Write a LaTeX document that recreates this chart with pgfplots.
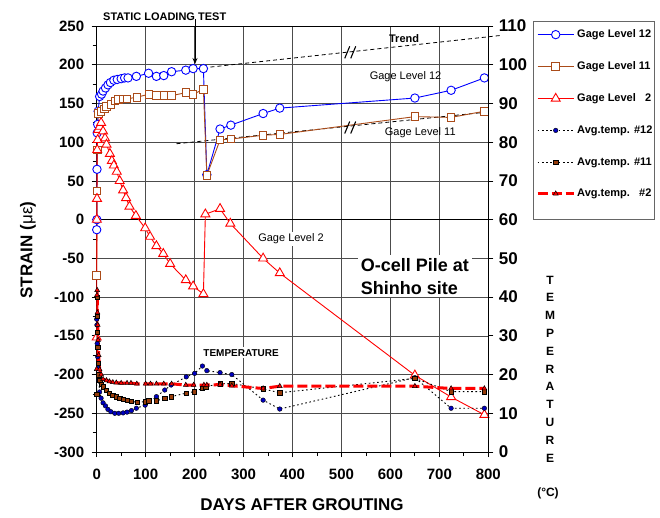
\documentclass[border=0pt]{standalone}
\usepackage{pgfplots}
\pgfplotsset{compat=1.18}
\usepackage{fontspec}
\setmainfont{Liberation Sans}
\usetikzlibrary{arrows.meta}

\definecolor{gblue}{RGB}{0,0,255}
\definecolor{gbrown}{RGB}{170,75,25}
\definecolor{gred}{RGB}{255,0,0}
\definecolor{tblue}{RGB}{0,0,190}
\definecolor{tbrown}{RGB}{150,60,10}

\pgfplotsset{
  frame/.style={at={(96.7pt,-452pt)}, anchor=south west, scale only axis,
    width=391.6pt, height=426pt, xmin=0, xmax=800},
  g12/.style={gblue, line width=0.9pt, mark=*, mark size=4.2pt, mark options={fill=white, solid}},
  g11/.style={gbrown, line width=0.9pt, mark=square*, mark size=3.8pt, mark options={fill=white, solid}},
  g2/.style={gred, line width=0.9pt, mark=triangle*, mark size=5.2pt, mark options={fill=white, solid}},
  t12/.style={black, line width=0.9pt, dash pattern=on 1.6pt off 2.6pt, mark=*, mark size=2.3pt, mark options={fill=tblue, draw=black, solid, line width=0.4pt}},
  t11/.style={black, line width=0.9pt, dash pattern=on 1.6pt off 2.6pt, mark=square*, mark size=2.2pt, mark options={fill=tbrown, draw=black, solid, line width=0.4pt}},
  t2/.style={gred, line width=3pt, dash pattern=on 10pt off 4pt, mark=triangle*, mark size=2.8pt, mark options={fill=gred, draw=black, solid, line width=0.5pt}},
}

\begin{document}
\begin{tikzpicture}
\useasboundingbox (0pt,0pt) rectangle (660pt,-517pt);

% strain axis
\begin{axis}[frame, ymin=-300, ymax=250, clip=false,
  xtick={0,100,...,800}, ytick={-300,-250,...,250},
  minor x tick num=1, minor y tick num=1,
  xtick pos=bottom, ytick pos=left, tick align=outside,
  major tick length=5pt, minor tick length=4pt,
  grid=major, grid style={black!70, line width=0.6pt},
  axis line style={black, line width=1pt},
  tick style={black, line width=0.8pt},
  /pgf/number format/assume math mode=true,
  yticklabel style={font=\bfseries\fontsize{15}{15}\selectfont, xshift=-4pt},
  xticklabel style={font=\bfseries\fontsize{15}{15}\selectfont, yshift=-8pt},
]
\draw[black, line width=1.4pt] (axis cs:0,0) -- (axis cs:800,0);

% trend lines
\addplot[black, line width=0.8pt, dash pattern=on 4pt off 3pt, forget plot] coordinates {(218,196) (828,238)};
\addplot[black, line width=0.8pt, dash pattern=on 4pt off 3pt, forget plot] coordinates {(163,98) (800,139)};

% Gage Level 12
\addplot[g12] coordinates {
(0,-13) (0.3,0) (0.6,65) (1,112) (2,123) (3,140) (6,159) (10,162) (13,166) (18,170)
(23,174) (28,177) (35,180) (42,181) (50,182) (57,183) (64,183) (81,185) (106,189)
(122,185) (137,186) (153,191) (182,193) (197,195) (218,195) (225,58) (252,117)
(274,122) (340,137) (374,144) (650,157) (724,167) (792,183)};

% Gage Level 11
\addplot[g11] coordinates {
(0,-72) (0.5,37) (1,90) (3,137) (9,140) (16,143) (20,146) (29,149) (37,153) (45,155)
(54,156) (62,156) (82,158) (107,162) (122,160) (137,160) (153,160) (182,164)
(197,162) (218,168) (225,57) (252,103) (274,104) (340,109) (374,110) (650,133)
(724,132) (792,140)};

% Gage Level 2
\addplot[g2] coordinates {
(0,-152) (0.3,0) (0.6,27) (1,90) (2,103) (3,116) (6,120) (9,125) (13,114) (17,105)
(20,97) (27,85) (31,76) (35,70) (41,62) (47,50) (54,38) (60,28) (67,17) (80,5)
(99,-11) (109,-22) (122,-34) (136,-44) (150,-57) (182,-78) (197,-86) (218,-96)
(222,7) (252,14) (273,-5) (340,-50) (374,-69) (650,-201) (724,-229) (792,-252)};

% break marks on the trend lines
\draw[line width=1.1pt] ([xshift=-7pt,yshift=-6pt]axis cs:521,216) -- ([xshift=-2pt,yshift=6pt]axis cs:521,216);
\draw[line width=1.1pt] ([xshift=-1pt,yshift=-6pt]axis cs:521,216) -- ([xshift=4pt,yshift=6pt]axis cs:521,216);
\draw[line width=1.1pt] ([xshift=-7pt,yshift=-6pt]axis cs:521,119) -- ([xshift=-2pt,yshift=6pt]axis cs:521,119);
\draw[line width=1.1pt] ([xshift=-1pt,yshift=-6pt]axis cs:521,119) -- ([xshift=4pt,yshift=6pt]axis cs:521,119);

\node[font=\bfseries\fontsize{11}{11}\selectfont] at (axis cs:628,234) {Trend};
\node[font=\fontsize{11}{11}\selectfont] at (axis cs:631,184.5) {Gage Level 12};
\node[font=\fontsize{11}{11}\selectfont] at (axis cs:661,112) {Gage Level 11};
\node[font=\fontsize{11}{11}\selectfont, fill=white, inner sep=2pt] at (axis cs:397,-25) {Gage Level 2};
\node[font=\bfseries\fontsize{18}{23}\selectfont, fill=white, align=left, inner sep=3pt] at (axis cs:650,-73) {O-cell Pile at\\Shinho site};
\node[font=\bfseries\fontsize{10}{10}\selectfont, fill=white, inner sep=2pt] at (axis cs:295,-172) {TEMPERATURE};
\end{axis}

% temperature axis
\begin{axis}[frame, ymin=0, ymax=110, axis x line=none, axis y line*=right,
  ytick={0,10,...,110}, tick align=outside, major tick length=5pt,
  axis line style={black, line width=1pt},
  tick style={black, line width=0.8pt},
  /pgf/number format/assume math mode=true,
  yticklabel style={font=\bfseries\fontsize{17}{17}\selectfont, xshift=2pt},
  legend image code/.code={\draw[mark repeat=2, mark phase=2, #1] plot coordinates {(0pt,0pt) (18pt,0pt) (36pt,0pt)};},
  legend style={at={(1.1142,1.0101)}, anchor=north west, draw=none, fill=none,
    font=\bfseries\fontsize{11}{11}\selectfont, row sep=18.5pt, inner xsep=3pt, inner ysep=6pt},
  legend cell align=left,
]
\addlegendimage{g12}
\addlegendentry{Gage Level 12}
\addlegendimage{g11}
\addlegendentry{Gage Level 11}
\addlegendimage{g2}
\addlegendentry{Gage Level\ \ \ 2}

% Avg.temp. #12
\addplot[t12] coordinates {
(0,34.3) (0.5,32.8) (1,28) (2,24.6) (3,21.7) (4,18.6) (6,15.5) (9,13.9) (13,12.7)
(18,11.9) (23,11.0) (29,10.4) (37,10.0) (45,10.0) (54,10.1) (62,10.3) (71,10.7)
(81,11.3) (99,12.1) (122,14.3) (139,16.0) (152,17.3) (183,19.4) (200,20.3)
(216,22.2) (225,21.0) (252,20.5) (276,20.0) (340,13.4) (374,11.1) (650,19.2)
(724,11.3) (792,11.3)};
\addlegendentry{Avg.temp. \#12}

% Avg.temp. #11
\addplot[t11] coordinates {
(0,14.9) (0.5,40) (1,35) (1.5,31) (2,27) (3,23) (4,20) (6,18.5) (9,17.5) (13,16.9)
(20,16.0) (26,15.2) (33,14.7) (40,14.3) (47,13.9) (54,13.6) (62,13.4) (71,13.1)
(83,12.8) (99,13.0) (106,13.2) (122,13.2) (139,13.9) (152,14.3) (183,15.2)
(199,15.6) (216,16.4) (223,16.9) (252,17.6) (276,17.7) (340,16.3) (374,15.3)
(650,19.0) (724,15.6) (792,15.6)};
\addlegendentry{Avg.temp. \#11}

% Avg.temp. #2
\addplot[t2] coordinates {
(0,21.4) (0.5,40.5) (1,41.8) (1.5,36) (2,32.8) (3,28.9) (4,25) (6,21.3) (9,20.0)
(13,18.8) (20,18.5) (26,18.2) (33,18.0) (40,17.9) (50,17.8) (62,17.8) (70,17.8)
(82,17.6) (100,17.6) (110,17.6) (122,17.6) (137,17.6) (153,17.6) (182,17.3)
(198,17.3) (219,17.3) (225,17.3) (252,17.4) (276,17.1) (340,16.4) (374,17.0)
(650,17.0) (724,16.4) (792,16.4)};
\addlegendentry{Avg.temp.\ \ \ \#2}
\end{axis}

% legend frame
\draw[black!60, line width=0.8pt] (533pt,-21.7pt) rectangle (654pt,-219pt);

% titles and axis labels
\node[font=\bfseries\fontsize{11}{11}\selectfont] at (164.7pt,-16.7pt) {STATIC LOADING TEST};
\draw[-{Stealth[length=6pt,width=5pt]}, line width=0.9pt] (195pt,-19pt) -- (195pt,-64pt);
\node[font=\bfseries\fontsize{17}{17}\selectfont] at (302pt,-505pt) {DAYS AFTER GROUTING};
\node[font=\bfseries\fontsize{17}{17}\selectfont, rotate=90] at (28pt,-250pt) {STRAIN (\textmd{με})};
\foreach \l [count=\i from 0] in {T,E,M,P,E,R,A,T,U,R,E}
  \node[font=\bfseries\fontsize{12}{12}\selectfont] at (550pt,{-280pt-17.8pt*\i}) {\l};
\node[font=\bfseries\fontsize{12}{12}\selectfont] at (548pt,-493pt) {(°C)};
\end{tikzpicture}
\end{document}
